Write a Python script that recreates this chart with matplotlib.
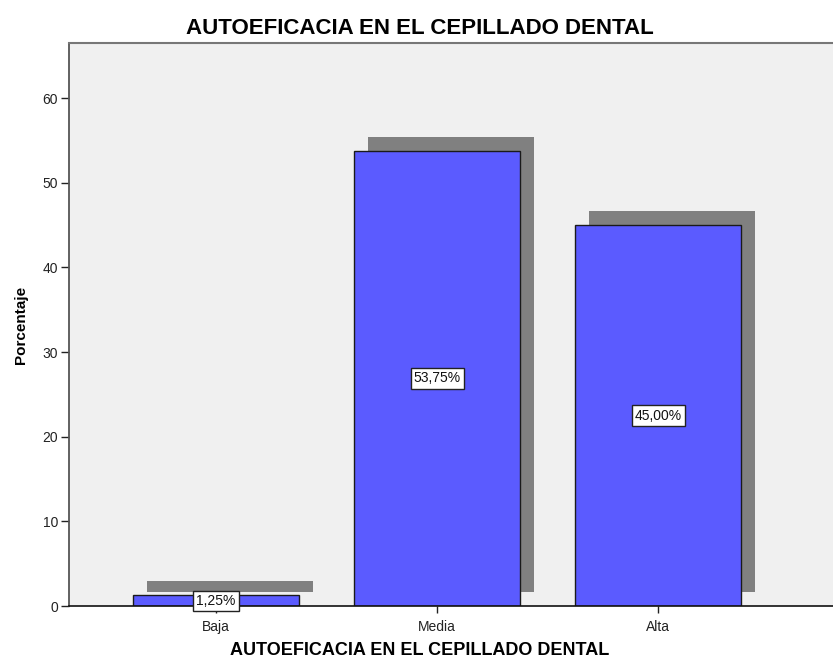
import matplotlib
matplotlib.use("Agg")
import matplotlib.pyplot as plt
from matplotlib.transforms import ScaledTranslation

categories = ["Baja", "Media", "Alta"]
values = [1.25, 53.75, 45.00]
labels = ["1,25%", "53,75%", "45,00%"]
yticks = [0, 10, 20, 30, 40, 50, 60]
title = "AUTOEFICACIA EN EL CEPILLADO DENTAL"

plt.rcParams['font.family'] = ['Liberation Sans', 'DejaVu Sans']

fig = plt.figure(figsize=(8.33, 6.65), dpi=100)
ax = fig.add_axes([69/833, 59/665, 1 - 69/833, (606-43)/665])
ax.set_facecolor('#F0F0F0')

x = list(range(len(categories)))
width = 0.75
shadow_tr = ax.transData + ScaledTranslation(14/100, 14/100, fig.dpi_scale_trans)
ax.bar(x, values, width=width, color='#808080', edgecolor='none', transform=shadow_tr, zorder=1)
ax.bar(x, values, width=width, color='#5B5BFF', edgecolor='#1a1a1a', linewidth=1.0, zorder=2)

for xi, v, lab in zip(x, values, labels):
    ax.text(xi, v/2, lab, ha='center', va='center', fontsize=10, zorder=3, color='#111111',
            bbox=dict(boxstyle='square,pad=0.22', facecolor='white', edgecolor='#222222', linewidth=1.0))

ax.set_xlim(-0.665, 2.79)
ax.set_ylim(0, 66.5)
ax.set_yticks(yticks)
ax.set_xticks(x)
ax.set_xticklabels(categories)
ax.tick_params(axis='both', labelsize=10, direction='out', length=6, width=1, colors='#222222', pad=2)
ax.tick_params(axis='x', length=5, pad=5)

ax.spines['right'].set_visible(False)
ax.spines['left'].set_color('#555555')
ax.spines['left'].set_linewidth(1.3)
ax.spines['top'].set_color('#777777')
ax.spines['top'].set_linewidth(1.5)
ax.spines['bottom'].set_color('#111111')
ax.spines['bottom'].set_linewidth(1.2)

ax.set_xlabel(title, fontsize=13, fontweight='bold', labelpad=6)
ax.xaxis.label.set_x((420 - 69) / (833 - 69))
ax.set_ylabel("Porcentaje", fontsize=11, fontweight='bold', labelpad=10)
fig.text(420/833, 1 - 28/665, title, ha='center', va='center', fontsize=16, fontweight='bold')

fig.savefig("out.png", dpi=100)
